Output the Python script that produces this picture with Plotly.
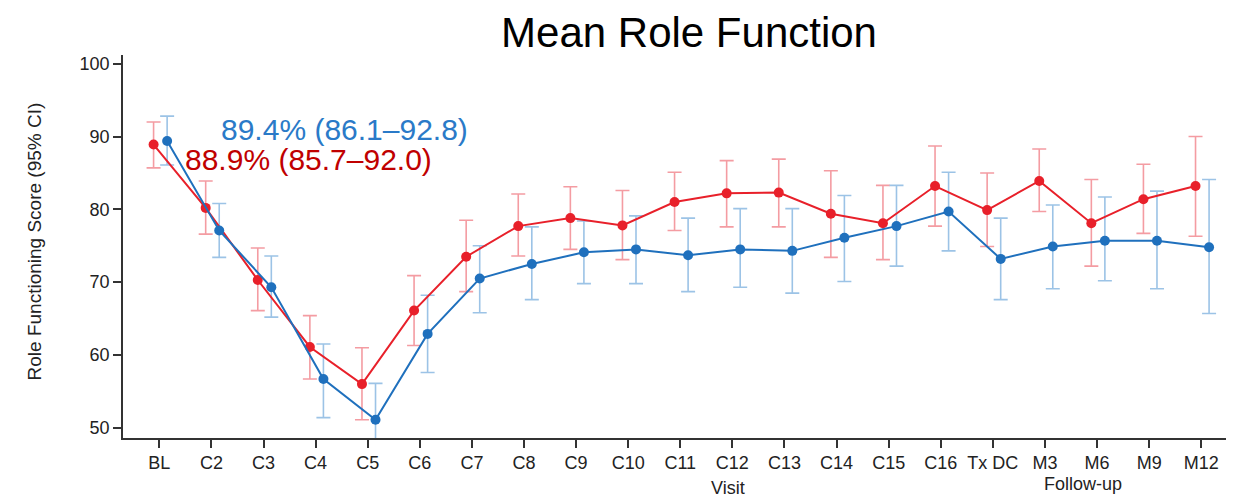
import plotly.graph_objects as go

categories = ["BL", "C2", "C3", "C4", "C5", "C6", "C7", "C8", "C9", "C10", "C11",
              "C12", "C13", "C14", "C15", "C16", "Tx DC", "M3", "M6", "M9", "M12"]

red_mean = [88.9, 80.2, 70.3, 61.1, 56.0, 66.1, 73.5, 77.7, 78.8, 77.8, 81.0,
            82.2, 82.3, 79.4, 78.1, 83.2, 79.9, 83.9, 78.1, 81.4, 83.2]
red_low = [85.7, 76.6, 66.1, 56.7, 51.1, 61.3, 68.7, 73.6, 74.5, 73.1, 77.1,
           77.6, 77.6, 73.4, 73.1, 77.7, 74.9, 79.7, 72.2, 76.7, 76.3]
red_high = [92.0, 83.9, 74.7, 65.4, 61.0, 70.9, 78.5, 82.1, 83.1, 82.6, 85.1,
            86.7, 86.9, 85.3, 83.3, 88.7, 85.0, 88.3, 84.1, 86.2, 90.0]

blue_mean = [89.4, 77.1, 69.3, 56.7, 51.1, 62.9, 70.5, 72.5, 74.1, 74.5, 73.7,
             74.5, 74.3, 76.1, 77.7, 79.7, 73.2, 74.9, 75.7, 75.7, 74.8]
blue_low = [86.1, 73.4, 65.2, 51.4, 46.0, 57.6, 65.8, 67.6, 69.8, 69.8, 68.7,
            69.3, 68.5, 70.1, 72.2, 74.3, 67.6, 69.1, 70.2, 69.1, 65.7]
blue_high = [92.8, 80.8, 73.6, 61.5, 56.1, 68.2, 75.0, 77.6, 78.4, 79.1, 78.8,
             80.1, 80.1, 81.9, 83.3, 85.1, 78.8, 80.6, 81.7, 82.5, 84.1]

blue_label = "89.4% (86.1\u201392.8)"
red_label = "88.9% (85.7\u201392.0)"
y_ticks = [50, 60, 70, 80, 90, 100]

RED = "#E8202A"
RED_ERR = "#F49CA2"
BLUE = "#1F70BD"
BLUE_ERR = "#9CC3E6"
FONT = "Liberation Sans, Arial, sans-serif"

idx = list(range(len(categories)))
red_x = [i - 0.11 for i in idx]
blue_x = [i + 0.15 for i in idx]

def err(mean, low, high):
    return dict(type="data", symmetric=False,
                array=[h - m for m, h in zip(mean, high)],
                arrayminus=[m - l for m, l in zip(mean, low)])

fig = go.Figure()
# error bars first (underneath)
fig.add_trace(go.Scatter(x=red_x, y=red_mean, mode="markers",
                         marker=dict(size=1, opacity=0),
                         error_y=dict(**err(red_mean, red_low, red_high),
                                      color=RED_ERR, thickness=1.6, width=7),
                         showlegend=False, hoverinfo="skip"))
fig.add_trace(go.Scatter(x=blue_x, y=blue_mean, mode="markers",
                         marker=dict(size=1, opacity=0),
                         error_y=dict(**err(blue_mean, blue_low, blue_high),
                                      color=BLUE_ERR, thickness=1.6, width=7),
                         showlegend=False, hoverinfo="skip"))
fig.add_trace(go.Scatter(x=red_x, y=red_mean, mode="lines+markers",
                         line=dict(color=RED, width=2),
                         marker=dict(color=RED, size=10),
                         showlegend=False))
fig.add_trace(go.Scatter(x=blue_x, y=blue_mean, mode="lines+markers",
                         line=dict(color=BLUE, width=2),
                         marker=dict(color=BLUE, size=10),
                         showlegend=False))

# page body has an 8px margin; figure sized/offset to compensate
fig.update_layout(
    width=1226, height=496,
    margin=dict(l=115, r=2, t=47, b=66),
    paper_bgcolor="white", plot_bgcolor="white",
    font=dict(family=FONT, color="#222222", size=18),
    title=dict(text="Mean Role Function", x=0.5555, xanchor="center",
               y=0.9516, yanchor="middle", xref="container", yref="container",
               font=dict(family=FONT, size=42, color="black")),
    xaxis=dict(range=[-0.697, 20.59], tickmode="array", tickvals=idx,
               ticktext=categories, showline=True, linecolor="#333333",
               linewidth=1.5, ticks="outside", ticklen=8, tickwidth=1.5,
               tickcolor="#333333", showgrid=False, zeroline=False,
               tickfont=dict(size=18, family=FONT, color="#222222")),
    yaxis=dict(range=[48.6, 101.2], tickvals=y_ticks, showline=True,
               linecolor="#333333", linewidth=1.5, ticks="outside", ticklen=8,
               tickwidth=1.5, tickcolor="#333333", showgrid=False,
               zeroline=False,
               tickfont=dict(size=18, family=FONT, color="#222222")),
    annotations=[
        dict(text=blue_label, x=3.545, y=91.0, xref="x", yref="y",
             showarrow=False, xanchor="center", yanchor="middle",
             font=dict(size=30, color="#2A7AC8", family=FONT)),
        dict(text=red_label, x=2.873, y=86.9, xref="x", yref="y",
             showarrow=False, xanchor="center", yanchor="middle",
             font=dict(size=30, color="#C00000", family=FONT)),
        dict(text="Role Functioning Score (95% CI)", textangle=-90,
             x=-0.0794, y=0.513, xref="paper", yref="paper",
             showarrow=False, xanchor="center", yanchor="middle",
             font=dict(size=19, color="#222222", family=FONT)),
        dict(text="Visit", x=10.92, y=-0.13, xref="x", yref="paper",
             showarrow=False, xanchor="center", yanchor="middle",
             font=dict(size=18, color="#222222", family=FONT)),
        dict(text="Follow-up", x=17.73, y=-0.12, xref="x", yref="paper",
             showarrow=False, xanchor="center", yanchor="middle",
             font=dict(size=18, color="#222222", family=FONT)),
    ],
)

fig.write_html("out.html")
